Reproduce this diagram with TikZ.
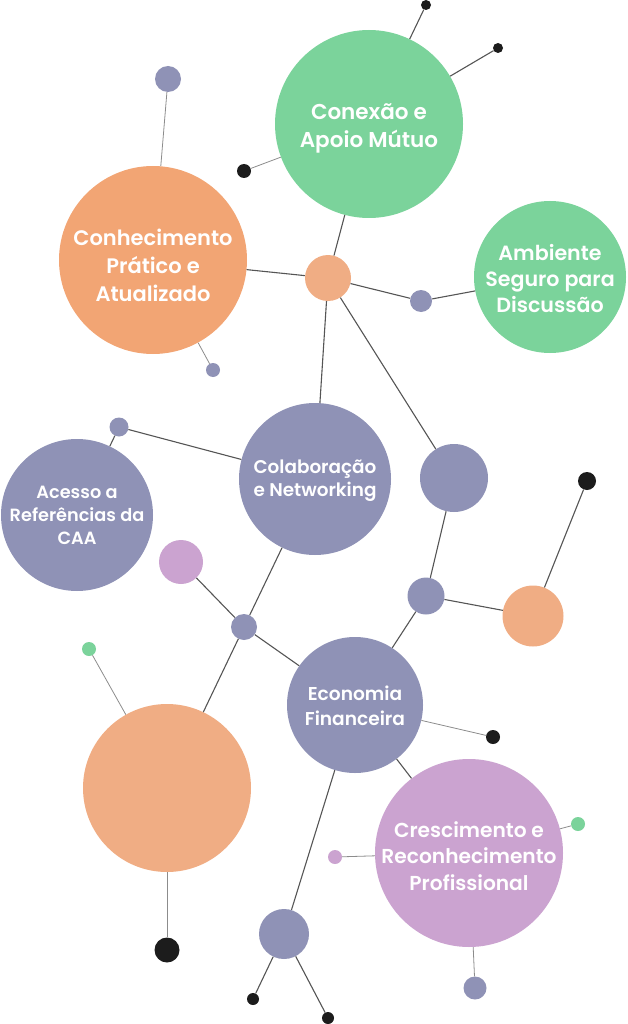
\documentclass[tikz,border=0pt]{standalone}
\usepackage{fontspec}
\setmainfont{Poppins}
\newfontfamily\bubfont{Poppins SemiBold}
\usepackage{tikz}
\usetikzlibrary{arrows}

\definecolor{bubgreen}{HTML}{7BD39B}
\definecolor{buborange}{HTML}{F2A574}
\definecolor{bubpeach}{HTML}{F0AD84}
\definecolor{bubslate}{HTML}{8F92B6}
\definecolor{bublilac}{HTML}{CBA3D0}
\definecolor{bubblack}{HTML}{1C1C1C}
\definecolor{linkdark}{HTML}{555555}
\definecolor{linklight}{HTML}{8C8C8C}

\begin{document}
\begin{tikzpicture}[x=1pt, y=-1pt,
    bubble/.style={circle, inner sep=0pt, draw=none},
    bubtext/.style={text=white, align=center, inner sep=0pt},
    link/.style={-, draw=linkdark, line width=1.1pt},
    thinlink/.style={-, draw=linklight, line width=0.8pt}]
            \useasboundingbox (0,0) rectangle (627,1024);
            % big labelled bubbles
            \node[bubble, fill=bubgreen, minimum size=188pt,
              label={[bubtext, yshift=-4pt, font=\bubfont\fontsize{21.5}{28}\selectfont]center:Conexão e\\Apoio Mútuo}] (conexao) at (369,124) {};
            \node[bubble, fill=buborange, minimum size=188pt,
              label={[bubtext, yshift=-5pt, font=\bubfont\fontsize{21}{28}\selectfont]center:Conhecimento\\Prático e\\Atualizado}] (conhecimento) at (153,260) {};
            \node[bubble, fill=bubgreen, minimum size=152pt,
              label={[bubtext, yshift=-2pt, font=\bubfont\fontsize{20.6}{26}\selectfont]center:Ambiente\\Seguro para\\Discussão}] (ambiente) at (550,277) {};
            \node[bubble, fill=bubslate, minimum size=152pt,
              label={[bubtext, yshift=-2pt, font=\bubfont\fontsize{18.4}{23}\selectfont]center:Colaboração\\e Networking}] (colab) at (315,479) {};
            \node[bubble, fill=bubslate, minimum size=152pt,
              label={[bubtext, font=\bubfont\fontsize{17.7}{23}\selectfont]center:Acesso a\\Referências da\\CAA}] (acesso) at (77,515) {};
            \node[bubble, fill=bubslate, minimum size=136pt,
              label={[bubtext, yshift=-1pt, font=\bubfont\fontsize{18.6}{25}\selectfont]center:Economia\\Financeira}] (economia) at (355,705) {};
            \node[bubble, fill=bublilac, minimum size=188pt,
              label={[bubtext, yshift=-3pt, font=\bubfont\fontsize{20.2}{26.5}\selectfont]center:Crescimento e\\Reconhecimento\\Profissional}] (cresc) at (469,853) {};
            \node[bubble, fill=bubpeach, minimum size=168pt] (bigorange) at (167,788) {};
            % small bubbles
            \foreach \name/\pos/\size/\col in {
                hub/{(328,278)}/46/bubpeach, pamb/{(421,301)}/22/bubslate,
                ptop/{(168,79)}/26/bubslate, pconh/{(213,370)}/14/bubslate,
                pacesso/{(119,427)}/19/bubslate, pmid/{(454,478)}/68/bubslate,
                lilac/{(181,562)}/44/bublilac, junc/{(244,627)}/26/bubslate,
                psmall/{(426,596)}/37/bubslate, oright/{(533,616)}/61/bubpeach,
                gtiny/{(89,649)}/14/bubgreen, gcresc/{(578,824)}/14/bubgreen,
                lcresc/{(335,857)}/14/bublilac, pcresc/{(475,988)}/23/bubslate,
                pbottom/{(284,934)}/50/bubslate} {
              \node[bubble, fill=\col, minimum size=\size pt] (\name) at \pos {};
            }
            % black dots
            \foreach \name/\pos/\size in {
                bleft/{(244,171)}/14, btop/{(426,5)}/10, bright/{(498,48)}/10,
                bfar/{(587,481)}/18, beco/{(493,737)}/14, borange/{(167,950)}/25,
                bbl/{(253,999)}/12, bbot/{(328,1018)}/12} {
              \node[bubble, fill=bubblack, minimum size=\size pt] (\name) at \pos {};
            }
            \draw[link] (conexao) -- (btop);
            \draw[link] (conexao) -- (bright);
            \draw[thinlink] (conexao) -- (bleft);
            \draw[link] (conexao) -- (hub);
            \draw[thinlink] (conhecimento) -- (ptop);
            \draw[thinlink] (conhecimento) -- (pconh);
            \draw[link] (conhecimento) -- (hub);
            \draw[link] (hub) -- (pamb);
            \draw[link] (pamb) -- (ambiente);
            \draw[link] (hub) -- (colab);
            \draw[link] (hub) -- (pmid);
            \draw[link] (colab) -- (pacesso);
            \draw[link] (pacesso) -- (acesso);
            \draw[link] (colab) -- (junc);
            \draw[link] (junc) -- (lilac);
            \draw[link] (junc) -- (bigorange);
            \draw[link] (junc) -- (economia);
            \draw[link] (pmid) -- (psmall);
            \draw[link] (psmall) -- (oright);
            \draw[link] (oright) -- (bfar);
            \draw[link] (psmall) -- (economia);
            \draw[thinlink] (economia) -- (beco);
            \draw[link] (economia) -- (cresc);
            \draw[link] (economia) -- (pbottom);
            \draw[link] (pbottom) -- (bbl);
            \draw[link] (pbottom) -- (bbot);
            \draw[thinlink] (cresc) -- (gcresc);
            \draw[thinlink] (cresc) -- (lcresc);
            \draw[thinlink] (cresc) -- (pcresc);
            \draw[thinlink] (bigorange) -- (gtiny);
            \draw[thinlink] (bigorange) -- (borange);
        \end{tikzpicture}
\end{document}
